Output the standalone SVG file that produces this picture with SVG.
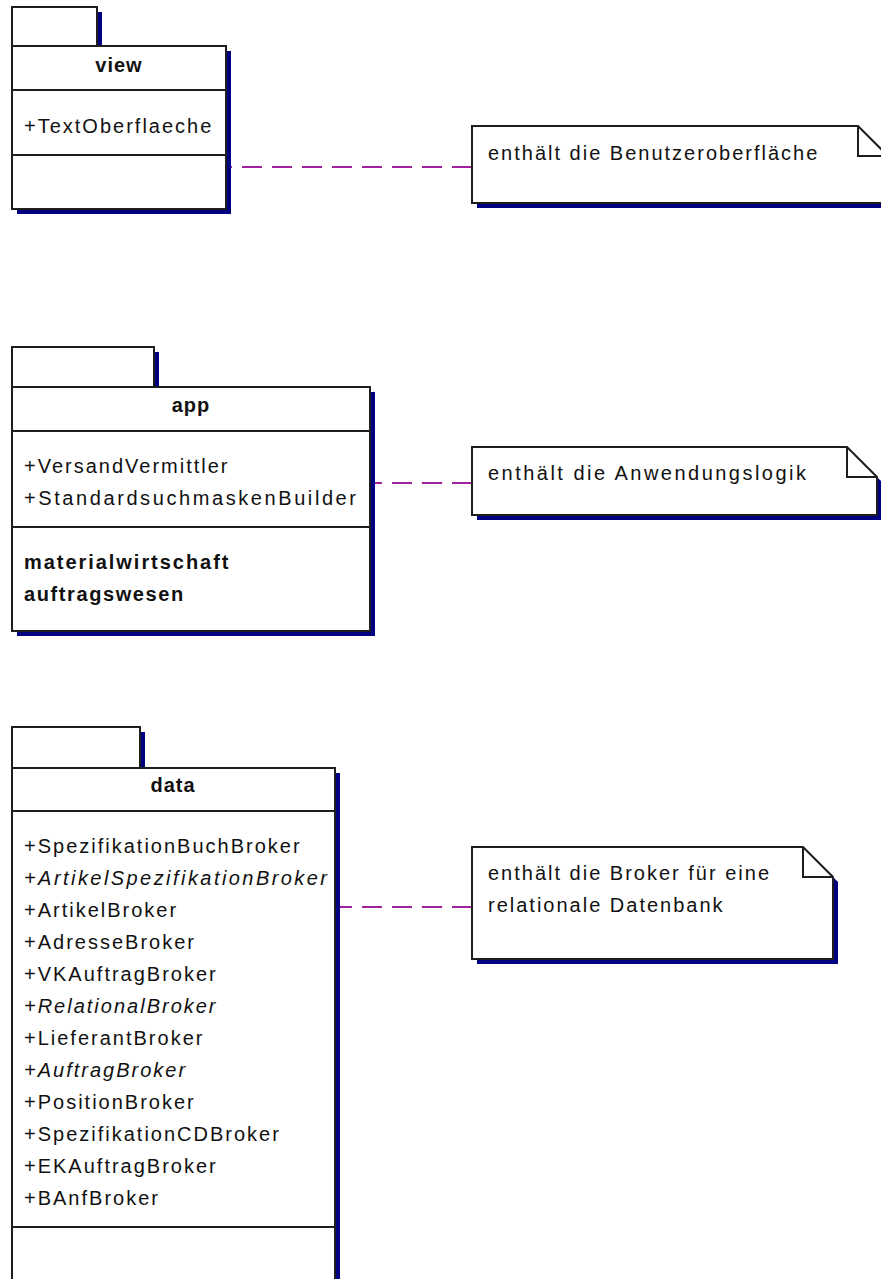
<svg xmlns="http://www.w3.org/2000/svg" width="881" height="1279" viewBox="0 0 881 1279">
  <style>
    .bg { fill: #ffffff; }
    .shadow { fill: #000080; stroke: none; }
    .box { fill: #ffffff; stroke: #1e1e1e; stroke-width: 2; }
    .line { stroke: #1e1e1e; stroke-width: 2; fill: none; }
    .name { font-family: "Liberation Sans", Arial, sans-serif; font-size: 20px; font-weight: bold; fill: #111; text-anchor: middle; letter-spacing: 1px; }
    .attr { font-family: "Liberation Sans", Arial, sans-serif; font-size: 20px; fill: #111; letter-spacing: 2px; }
    .abs { font-style: italic; }
    .sub { font-family: "Liberation Sans", Arial, sans-serif; font-size: 20px; font-weight: bold; fill: #111; letter-spacing: 1.6px; }
    .note { font-family: "Liberation Sans", Arial, sans-serif; font-size: 20px; fill: #111; letter-spacing: 2px; }
    .dep { stroke: #a020a0; stroke-width: 2; stroke-dasharray: 20 10; fill: none; }
  </style>
  <rect class="bg" x="0" y="0" width="881" height="1279"/>

  <!-- dashed note links -->
  <g id="connectors">
    <path class="dep" d="M472,167 H231"/>
    <path class="dep" d="M472,483 H375"/>
    <path class="dep" d="M472,907 H340"/>
  </g>

  <!-- package: view -->
  <g id="pkg-view">
    <rect class="shadow" x="17" y="12" width="85" height="39"/>
    <rect class="shadow" x="17" y="51" width="214" height="163"/>
    <rect class="box" x="12" y="7" width="85" height="39"/>
    <rect class="box" x="12" y="46" width="214" height="163"/>
    <path class="line" d="M12,90 H226 M12,155 H226"/>
    <text class="name" x="119" y="72">view</text>
    <text class="attr" x="24" y="133">+TextOberflaeche</text>
  </g>

  <!-- package: app -->
  <g id="pkg-app">
    <rect class="shadow" x="17" y="352" width="142" height="40"/>
    <rect class="shadow" x="17" y="392" width="358" height="244"/>
    <rect class="box" x="12" y="347" width="142" height="40"/>
    <rect class="box" x="12" y="387" width="358" height="244"/>
    <path class="line" d="M12,431 H370 M12,527 H370"/>
    <text class="name" x="191" y="412">app</text>
    <text class="attr" x="24" y="473">+VersandVermittler</text>
    <text class="attr" x="24" y="505" textLength="334" lengthAdjust="spacing">+StandardsuchmaskenBuilder</text>
    <text class="sub" x="24" y="569" textLength="206" lengthAdjust="spacing">materialwirtschaft</text>
    <text class="sub" x="24" y="601">auftragswesen</text>
  </g>

  <!-- package: data -->
  <g id="pkg-data">
    <rect class="shadow" x="17" y="732" width="128" height="41"/>
    <rect class="shadow" x="17" y="773" width="323" height="530"/>
    <rect class="box" x="12" y="727" width="128" height="41"/>
    <rect class="box" x="12" y="768" width="323" height="530"/>
    <path class="line" d="M12,811 H335 M12,1227 H335"/>
    <text class="name" x="173" y="792">data</text>
    <text class="attr" x="24" y="853">+SpezifikationBuchBroker</text>
    <text class="attr abs" x="24" y="885" textLength="305" lengthAdjust="spacing">+ArtikelSpezifikationBroker</text>
    <text class="attr" x="24" y="917">+ArtikelBroker</text>
    <text class="attr" x="24" y="949">+AdresseBroker</text>
    <text class="attr" x="24" y="981">+VKAuftragBroker</text>
    <text class="attr abs" x="24" y="1013">+RelationalBroker</text>
    <text class="attr" x="24" y="1045">+LieferantBroker</text>
    <text class="attr abs" x="24" y="1077">+AuftragBroker</text>
    <text class="attr" x="24" y="1109">+PositionBroker</text>
    <text class="attr" x="24" y="1141">+SpezifikationCDBroker</text>
    <text class="attr" x="24" y="1173">+EKAuftragBroker</text>
    <text class="attr" x="24" y="1205">+BAnfBroker</text>
  </g>

  <!-- note: view (shadow follows the folded outline) -->
  <g id="note-view">
    <path class="shadow" d="M477,131 H863 L893,161 V208 H477 Z"/>
    <path class="box" d="M472,126 H858 L888,156 V203 H472 Z"/>
    <path class="line" d="M858,126 V156 H888"/>
    <text class="note" x="488" y="160">enthält die Benutzeroberfläche</text>
  </g>

  <!-- note: app -->
  <g id="note-app">
    <path class="shadow" d="M477,452 H852 L882,482 V520 H477 Z"/>
    <path class="box" d="M472,447 H847 L877,477 V515 H472 Z"/>
    <path class="line" d="M847,447 V477 H877"/>
    <text class="note" x="488" y="480" textLength="320" lengthAdjust="spacing">enthält die Anwendungslogik</text>
  </g>

  <!-- note: data -->
  <g id="note-data">
    <path class="shadow" d="M477,852 H808 L838,882 V964 H477 Z"/>
    <path class="box" d="M472,847 H803 L833,877 V959 H472 Z"/>
    <path class="line" d="M803,847 V877 H833"/>
    <text class="note" x="488" y="880">enthält die Broker für eine</text>
    <text class="note" x="488" y="912">relationale Datenbank</text>
  </g>
</svg>
